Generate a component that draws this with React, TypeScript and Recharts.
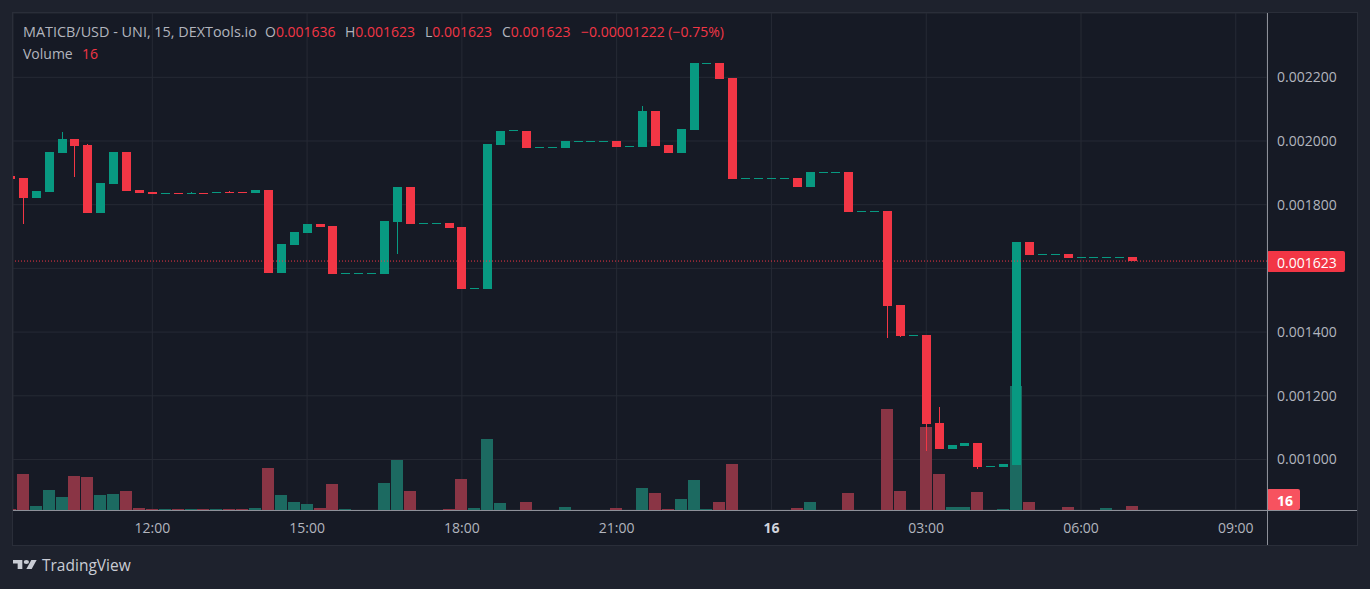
import React from "react";
import {
  Bar,
  CartesianGrid,
  ComposedChart,
  ReferenceLine,
  XAxis,
  YAxis,
} from "recharts";

// 15 min candles, index 0 = 09:15
const opens = [
  0.00189, 0.001884, 0.001822, 0.001841, 0.001963, 0.002006, 0.001987, 0.001775, 0.001866, 0.001965,
  0.001846, 0.00184, 0.001835, 0.001836, 0.001835, 0.001836, 0.001838, 0.00184, 0.00184, 0.001838,
  0.001846, 0.001586, 0.001674, 0.001712, 0.001739, 0.001733, 0.001583, 0.001583, 0.001583, 0.001583,
  0.001747, 0.001856, 0.00174, 0.00174, 0.001742, 0.00173, 0.001535, 0.001535, 0.001988, 0.002031,
  0.002031, 0.001979, 0.001979, 0.001978, 0.002, 0.002, 0.002, 0.002, 0.001982, 0.001981,
  0.002094, 0.001987, 0.001962, 0.002034, 0.002245, 0.002245, 0.002198, 0.001881, 0.001881, 0.001881,
  0.001881, 0.001883, 0.001855, 0.001902, 0.001902, 0.001903, 0.001777, 0.001777, 0.00178, 0.001485,
  0.001388, 0.001391, 0.001114, 0.001033, 0.001042, 0.001052, 0.000976, 0.000976, 0.000983, 0.001683,
  0.001642, 0.001642, 0.001645, 0.001633, 0.001633, 0.001633, 0.001633, 0.001636,
];
const highs = [
  0.00189, 0.001884, 0.001843, 0.001965, 0.002028, 0.002006, 0.001991, 0.001868, 0.001965, 0.001965,
  0.001846, 0.00184, 0.001836, 0.001836, 0.00184, 0.001836, 0.00184, 0.001843, 0.00184, 0.001846,
  0.001846, 0.001677, 0.001714, 0.001739, 0.001739, 0.001733, 0.001585, 0.001585, 0.001585, 0.001749,
  0.001856, 0.001856, 0.001742, 0.001742, 0.001742, 0.00173, 0.001537, 0.00199, 0.002031, 0.002033,
  0.002031, 0.001981, 0.001981, 0.002, 0.002001, 0.002001, 0.002001, 0.002, 0.001984, 0.00211,
  0.002094, 0.001987, 0.002037, 0.002245, 0.002246, 0.002245, 0.002198, 0.001883, 0.001883, 0.001883,
  0.001883, 0.001883, 0.001903, 0.001903, 0.001903, 0.001903, 0.00178, 0.00178, 0.00178, 0.001485,
  0.001391, 0.001391, 0.001165, 0.001045, 0.001052, 0.001052, 0.000979, 0.000986, 0.001683, 0.001683,
  0.001645, 0.001645, 0.001645, 0.001636, 0.001636, 0.001636, 0.001636, 0.001636,
];
const lows = [
  0.001881, 0.001739, 0.001822, 0.001841, 0.001963, 0.001888, 0.001775, 0.001775, 0.001866, 0.001844,
  0.001838, 0.001835, 0.001835, 0.001835, 0.001835, 0.001835, 0.001838, 0.001838, 0.001838, 0.001838,
  0.001586, 0.001586, 0.001674, 0.001712, 0.001731, 0.001583, 0.001583, 0.001583, 0.001583, 0.001583,
  0.001646, 0.00174, 0.00174, 0.00174, 0.001728, 0.001535, 0.001535, 0.001535, 0.001988, 0.002031,
  0.001978, 0.001979, 0.001979, 0.001978, 0.002, 0.002, 0.002, 0.001981, 0.001982, 0.001981,
  0.001984, 0.001962, 0.001962, 0.002034, 0.002245, 0.002195, 0.001881, 0.001881, 0.001881, 0.001881,
  0.001881, 0.001855, 0.001855, 0.001902, 0.001902, 0.001777, 0.001777, 0.001777, 0.001381, 0.001385,
  0.001388, 0.001027, 0.001033, 0.001033, 0.001042, 0.00097, 0.000976, 0.000976, 0.000983, 0.001642,
  0.001642, 0.001642, 0.001633, 0.001633, 0.001633, 0.001633, 0.001633, 0.001623,
];
const closes = [
  0.001881, 0.001822, 0.001843, 0.001965, 0.002006, 0.001985, 0.001775, 0.001868, 0.001965, 0.001844,
  0.001838, 0.001835, 0.001836, 0.001835, 0.001836, 0.001835, 0.00184, 0.001838, 0.001838, 0.001846,
  0.001586, 0.001677, 0.001714, 0.001739, 0.001731, 0.001583, 0.001585, 0.001585, 0.001585, 0.001749,
  0.001856, 0.00174, 0.001742, 0.001742, 0.001728, 0.001535, 0.001537, 0.00199, 0.002031, 0.002033,
  0.001978, 0.001981, 0.001981, 0.002, 0.002001, 0.002001, 0.002001, 0.001981, 0.001984, 0.002094,
  0.001984, 0.001962, 0.002037, 0.002245, 0.002246, 0.002195, 0.001881, 0.001883, 0.001883, 0.001883,
  0.001883, 0.001855, 0.001903, 0.001903, 0.001903, 0.001777, 0.00178, 0.00178, 0.001482, 0.001388,
  0.001391, 0.001111, 0.001033, 0.001045, 0.001052, 0.000976, 0.000979, 0.000986, 0.001683, 0.001642,
  0.001645, 0.001645, 0.001633, 0.001636, 0.001636, 0.001636, 0.001636, 0.001623,
];
const volumes = [
  4, 144, 16, 80, 52, 136, 132, 60, 64, 76,
  8, 4, 4, 4, 4, 4, 4, 4, 4, 8,
  168, 60, 32, 24, 8, 104, 4, 0, 0, 108,
  200, 76, 0, 0, 4, 124, 8, 284, 28, 0,
  32, 0, 0, 12, 0, 0, 0, 8, 0, 88,
  68, 4, 44, 120, 4, 32, 184, 0, 0, 0,
  0, 8, 32, 0, 0, 68, 0, 0, 404, 76,
  0, 332, 144, 12, 12, 72, 0, 4, 496, 32,
  0, 0, 12, 0, 0, 8, 0, 16,
];

const timeTicks = [11, 23, 35, 47, 59, 71, 83, 95];
const timeLabels = ["12:00", "15:00", "18:00", "21:00", "16", "03:00", "06:00", "09:00"];
const priceTicks = [0.001, 0.0012, 0.0014, 0.0016, 0.0018, 0.002, 0.0022];
const lastPrice = 0.001623;
const lastVolume = 16;

const UP = "#089981";
const DOWN = "#f23645";
const UP_VOL = "#1c6a61";
const DOWN_VOL = "#8a3545";
const TEXT = "#b2b5be";
const GRID = "#262a35";
const PANEL = "#161a25";
const FONT = '"Open Sans", "Noto Sans", sans-serif';

const CHART_W = 1344;
const CHART_H = 532;
const AXIS_H = 35;
const AXIS_W = 90;
const PLOT_H = CHART_H - AXIS_H;

const data = opens.map((open, i) => ({
  i,
  open,
  high: highs[i],
  low: lows[i],
  close: closes[i],
  range: [lows[i], highs[i]],
  vol: volumes[i],
}));

function Candle(props: any) {
  const { x, y, width, height, payload } = props;
  if (x == null || y == null) return null;
  const { open, close, high, low } = payload;
  const top = Math.min(y, y + height);
  const span = Math.abs(height);
  const toY = (v: number) => (high === low ? top : top + ((high - v) / (high - low)) * span);
  const color = close >= open ? UP : DOWN;
  const left = Math.round(x);
  const w = Math.round(width);
  const wickX = left + Math.floor(w / 2);
  const wTop = Math.round(top);
  const wBot = Math.round(top + span);
  const bTop = Math.round(toY(Math.max(open, close)));
  const bBot = Math.round(toY(Math.min(open, close)));
  return (
    <g>
      <rect x={wickX} y={wTop} width={1} height={Math.max(1, wBot - wTop)} fill={color} />
      <rect x={left} y={bTop} width={w} height={Math.max(1, bBot - bTop)} fill={color} />
    </g>
  );
}

function VolumeBar(props: any) {
  const { x, y, width, height, payload } = props;
  if (!payload || !payload.vol || x == null) return null;
  const top = Math.round(y);
  const bot = Math.round(y + height);
  const fill = payload.close >= payload.open ? UP_VOL : DOWN_VOL;
  return <rect x={Math.round(x)} y={top} width={Math.round(width)} height={Math.max(1, bot - top)} fill={fill} />;
}

function TimeTick({ x, y, payload }: any) {
  const label = timeLabels[timeTicks.indexOf(payload.value)] ?? "";
  const day = !label.includes(":");
  return (
    <text
      x={x}
      y={y}
      dy="0.71em"
      textAnchor="middle"
      fill={day ? "#d1d4dc" : TEXT}
      fontSize={14}
      fontWeight={day ? 700 : 400}
      fontFamily={FONT}
    >
      {label}
    </text>
  );
}

// price labels; the one sitting under the last-price tag is hidden like on TradingView
function PriceTick({ x, y, payload }: any) {
  if (Math.abs(payload.value - lastPrice) < 0.00004) return null;
  return (
    <text x={x} y={y} dy="0.35em" textAnchor="start" fill={TEXT} fontSize={14} fontFamily={FONT}>
      {payload.value.toFixed(6)}
    </text>
  );
}

function AxisTag({ viewBox, text, color, w, bold }: any) {
  if (!viewBox) return null;
  const x = viewBox.x + viewBox.width;
  const top = Math.round(Math.min(viewBox.y - 10.5, PLOT_H - 21));
  return (
    <g>
      <rect x={x} y={top} width={w} height={21} rx={2} fill={color} />
      <text
        x={x + 10}
        y={top + 11}
        dominantBaseline="central"
        fill="#ffffff"
        fontSize={14}
        fontWeight={bold ? 700 : 400}
        fontFamily={FONT}
      >
        {text}
      </text>
    </g>
  );
}

export default function App() {
  return (
    <div
      style={{
        position: "fixed",
        left: 0,
        top: 0,
        width: 1370,
        height: 589,
        background: "#1e222d",
        fontFamily: FONT,
        overflow: "hidden",
      }}
    >
      <div
        style={{
          position: "absolute",
          left: 12,
          top: 12,
          width: 1344,
          height: 532,
          background: PANEL,
          border: "1px solid #2a2e39",
        }}
      />
      <div style={{ position: "absolute", left: 13, top: 13 }}>
        <ComposedChart
          width={CHART_W}
          height={CHART_H}
          data={data}
          margin={{ top: 0, right: 0, bottom: 0, left: 0 }}
        >
          <XAxis
            dataKey="i"
            type="number"
            domain={[0.2, 97.42]}
            allowDataOverflow
            ticks={timeTicks}
            interval={0}
            tick={<TimeTick />}
            tickLine={false}
            axisLine={false}
            tickSize={6}
            tickMargin={7}
            height={AXIS_H}
          />
          <XAxis xAxisId="v" dataKey="i" type="number" domain={[0.2, 97.42]} allowDataOverflow hide />
          <YAxis
            orientation="right"
            type="number"
            domain={[0.0008413, 0.0024019]}
            allowDataOverflow
            ticks={priceTicks}
            interval={0}
            tick={<PriceTick />}
            tickLine={false}
            axisLine={false}
            tickSize={6}
            tickMargin={4}
            width={AXIS_W}
          />
          <YAxis yAxisId="v" type="number" domain={[0, 1988]} allowDataOverflow hide />
          <CartesianGrid stroke={GRID} />
          <Bar
            dataKey="vol"
            xAxisId="v"
            yAxisId="v"
            barSize={12}
            shape={<VolumeBar />}
            isAnimationActive={false}
          />
          <Bar dataKey="range" barSize={9} shape={<Candle />} isAnimationActive={false} />
          <ReferenceLine
            y={lastPrice}
            stroke={DOWN}
            strokeDasharray="1 2"
            label={<AxisTag text={lastPrice.toFixed(6)} color={DOWN} w={78} />}
          />
          <ReferenceLine
            xAxisId="v"
            yAxisId="v"
            y={lastVolume}
            stroke="none"
            label={<AxisTag text={String(lastVolume)} color="#f7525f" w={33} bold />}
          />
        </ComposedChart>
      </div>
      {/* pane separators */}
      <div style={{ position: "absolute", left: 1267, top: 13, width: 1, height: 532, background: "#8d9099" }} />
      <div style={{ position: "absolute", left: 13, top: 510, width: 1344, height: 1, background: "#8d9099" }} />

      {/* legend */}
      <div style={{ position: "absolute", left: 0, top: 25, width: 760, height: 16, fontSize: 14, lineHeight: "14px", whiteSpace: "nowrap" }}>
        <span style={{ position: "absolute", left: 23, color: TEXT, fontSize: 14.4 }}>MATICB/USD - UNI, 15, DEXTools.io</span>
        <span style={{ position: "absolute", left: 265, color: TEXT }}>
          O<span style={{ color: DOWN }}>0.001636</span>
        </span>
        <span style={{ position: "absolute", left: 345, color: TEXT }}>
          H<span style={{ color: DOWN }}>0.001623</span>
        </span>
        <span style={{ position: "absolute", left: 425, color: TEXT }}>
          L<span style={{ color: DOWN }}>0.001623</span>
        </span>
        <span style={{ position: "absolute", left: 502, color: TEXT }}>
          C<span style={{ color: DOWN }}>0.001623</span>
        </span>
        <span style={{ position: "absolute", left: 581, color: DOWN }}>−0.00001222 (−0.75%)</span>
      </div>
      <div style={{ position: "absolute", left: 0, top: 47, width: 200, height: 16, fontSize: 14, lineHeight: "14px", whiteSpace: "nowrap" }}>
        <span style={{ position: "absolute", left: 23, color: TEXT }}>Volume</span>
        <span style={{ position: "absolute", left: 82, color: DOWN }}>16</span>
      </div>

      {/* footer */}
      <svg style={{ position: "absolute", left: 13, top: 560 }} width={24} height={9} viewBox="0 4 36 18" preserveAspectRatio="none">
        <path d="M14 22H7V11H0V4h14v18zM28 22h-8l7.5-18h8L28 22z" fill="#c9ccd4" />
        <circle cx={20} cy={8} r={4} fill="#c9ccd4" />
      </svg>
      <div style={{ position: "absolute", left: 42, top: 556, fontSize: 15.5, lineHeight: "18px", color: "#c9ccd4" }}>
        TradingView
      </div>
    </div>
  );
}
